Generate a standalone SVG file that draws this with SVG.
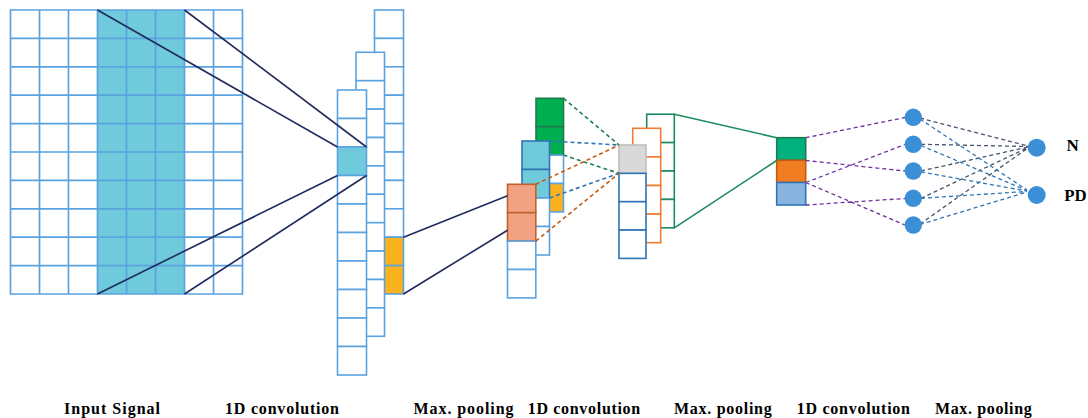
<svg xmlns="http://www.w3.org/2000/svg" width="1088" height="418" viewBox="0 0 1088 418">
<style>
.g{fill:none;stroke:#5BA3E0;stroke-width:1.7}
.c{fill:#fff;stroke:#5BA3E0;stroke-width:1.6}
.cy{fill:#FAB21E;stroke:#5BA3E0;stroke-width:1.6}
.cb{fill:#6FCADB;stroke:#5BA3E0;stroke-width:1.6}
.gr{fill:#00B050;stroke:#1E7A4E;stroke-width:1.6}
.lb{fill:#6FCADB;stroke:#2E75B6;stroke-width:1.6}
.pk{fill:#F0A282;stroke:#C0622B;stroke-width:1.6}
.gy{fill:#D9D9D9;stroke:#BFBFBF;stroke-width:1.6}
.wb{fill:#fff;stroke:#2E75B6;stroke-width:1.6}
.wo{fill:#fff;stroke:#ED7D31;stroke-width:1.6}
.wg{fill:#fff;stroke:#1E8B5E;stroke-width:1.6}
.s1{fill:#00B07D;stroke:#1B7C53;stroke-width:1.6}
.s2{fill:#F07D22;stroke:#C55A11;stroke-width:1.6}
.s3{fill:#8AB4E0;stroke:#2E75B6;stroke-width:1.6}
.nv{stroke:#1F2A5E;stroke-width:1.6;fill:none}
.dg{stroke:#1E8050;stroke-width:1.6;stroke-dasharray:4 3;fill:none}
.db{stroke:#2E75B6;stroke-width:1.6;stroke-dasharray:4 3;fill:none}
.dr{stroke:#C55A11;stroke-width:1.6;stroke-dasharray:4 3;fill:none}
.sg{stroke:#1E8B5E;stroke-width:1.6;fill:none}
.dp{stroke:#7030A0;stroke-width:1.3;stroke-dasharray:4 3;fill:none}
.dk{stroke:#44546A;stroke-width:1.3;stroke-dasharray:4 3;fill:none}
.bl{stroke:#2E75B6;stroke-width:1.3;stroke-dasharray:4 3;fill:none}
.nd{fill:#3B8FD6}
.t{font-family:"Liberation Serif","Times New Roman",serif;font-weight:bold;font-size:16px;fill:#000}
.o{font-family:"Liberation Serif","Times New Roman",serif;font-weight:bold;font-size:17px;fill:#000}
</style>

<g id="input">
<rect x="97.5" y="10" width="87" height="284" fill="#6FCADB"/>
<path class="g" d="M10.5 10H242.5V294H10.5Z M39.5 10V294 M68.5 10V294 M97.5 10V294 M126.5 10V294 M155.5 10V294 M184.5 10V294 M213.5 10V294 M10.5 38.4H242.5 M10.5 66.8H242.5 M10.5 95.2H242.5 M10.5 123.6H242.5 M10.5 152H242.5 M10.5 180.4H242.5 M10.5 208.8H242.5 M10.5 237.2H242.5 M10.5 265.6H242.5"/>
</g>

<g id="conv1">
<g id="conv1-c">
<rect class="c" x="374.5" y="10" width="29" height="28.4"/>
<rect class="c" x="374.5" y="38.4" width="29" height="28.4"/>
<rect class="c" x="374.5" y="66.8" width="29" height="28.4"/>
<rect class="c" x="374.5" y="95.2" width="29" height="28.4"/>
<rect class="c" x="374.5" y="123.6" width="29" height="28.4"/>
<rect class="c" x="374.5" y="152" width="29" height="28.4"/>
<rect class="c" x="374.5" y="180.4" width="29" height="28.4"/>
<rect class="c" x="374.5" y="208.8" width="29" height="28.4"/>
<rect class="cy" x="374.5" y="237.2" width="29" height="28.4"/>
<rect class="cy" x="374.5" y="265.6" width="29" height="28.4"/>
</g>
<g id="conv1-b">
<rect class="c" x="356" y="52.3" width="28.5" height="28.4"/>
<rect class="c" x="356" y="80.7" width="28.5" height="28.4"/>
<rect class="c" x="356" y="109.1" width="28.5" height="28.4"/>
<rect class="c" x="356" y="137.5" width="28.5" height="28.4"/>
<rect class="c" x="356" y="165.9" width="28.5" height="28.4"/>
<rect class="c" x="356" y="194.3" width="28.5" height="28.4"/>
<rect class="c" x="356" y="222.7" width="28.5" height="28.4"/>
<rect class="c" x="356" y="251.1" width="28.5" height="28.4"/>
<rect class="c" x="356" y="279.5" width="28.5" height="28.4"/>
<rect class="c" x="356" y="307.9" width="28.5" height="28.4"/>
</g>
<g id="conv1-a">
<rect class="c" x="337.5" y="90" width="29" height="28.5"/>
<rect class="c" x="337.5" y="118.5" width="29" height="28.5"/>
<rect class="cb" x="337.5" y="147" width="29" height="28.5"/>
<rect class="c" x="337.5" y="175.5" width="29" height="28.5"/>
<rect class="c" x="337.5" y="204" width="29" height="28.5"/>
<rect class="c" x="337.5" y="232.5" width="29" height="28.5"/>
<rect class="c" x="337.5" y="261" width="29" height="28.5"/>
<rect class="c" x="337.5" y="289.5" width="29" height="28.5"/>
<rect class="c" x="337.5" y="318" width="29" height="28.5"/>
<rect class="c" x="337.5" y="346.5" width="29" height="28.5"/>
</g>
</g>

<g id="conv2">
<g id="conv2-green">
<rect class="gr" x="536" y="98.3" width="27.5" height="28.4"/>
<rect class="gr" x="536" y="126.7" width="27.5" height="28.4"/>
<rect class="c" x="536" y="155.1" width="27.5" height="28.4"/>
<rect class="cy" x="536" y="183.5" width="27.5" height="28.4"/>
</g>
<g id="conv2-blue">
<rect class="lb" x="522" y="141" width="27.5" height="28.5"/>
<rect class="lb" x="522" y="169.5" width="27.5" height="28.5"/>
<rect class="c" x="522" y="198" width="27.5" height="28.5"/>
<rect class="c" x="522" y="226.5" width="27.5" height="28.5"/>
</g>
<g id="conv2-pink">
<rect class="pk" x="507.5" y="184.3" width="28.3" height="28.4"/>
<rect class="pk" x="507.5" y="212.7" width="28.3" height="28.4"/>
<rect class="c" x="507.5" y="241.1" width="28.3" height="28.4"/>
<rect class="c" x="507.5" y="269.5" width="28.3" height="28.4"/>
</g>
</g>

<g id="pool2">
<g id="pool2-green">
<rect class="wg" x="646.7" y="114.2" width="27.6" height="28.4"/>
<rect class="wg" x="646.7" y="142.6" width="27.6" height="28.4"/>
<rect class="wg" x="646.7" y="171" width="27.6" height="28.4"/>
<rect class="wg" x="646.7" y="199.4" width="27.6" height="28.4"/>
</g>
<g id="pool2-orange">
<rect class="wo" x="632.7" y="128.3" width="28" height="28.6"/>
<rect class="wo" x="632.7" y="156.9" width="28" height="28.6"/>
<rect class="wo" x="632.7" y="185.5" width="28" height="28.6"/>
<rect class="wo" x="632.7" y="214.1" width="28" height="28.6"/>
</g>
<g id="pool2-front">
<rect class="gy" x="619" y="145" width="27" height="28.35"/>
<rect class="wb" x="619" y="173.35" width="27" height="28.35"/>
<rect class="wb" x="619" y="201.7" width="27" height="28.35"/>
<rect class="wb" x="619" y="230.05" width="27" height="28.35"/>
</g>
</g>

<g id="conv3">
<rect class="s1" x="776.7" y="137.7" width="29" height="22.6"/>
<rect class="s2" x="776.7" y="160.3" width="29" height="22.2"/>
<rect class="s3" x="776.7" y="182.5" width="29" height="22.5"/>
</g>

<g id="connectors">
<path class="nv" d="M97.5 10L337.5 147 M184.5 10L366.5 147 M97.5 294L337.5 175.5 M184.5 294L366.5 175.5"/>
<path class="nv" d="M403.5 237.2L507.5 195.8 M403.5 294L507.5 230.2"/>
<path class="dg" d="M563.5 98.3L619 145 M563.5 155.1L619 173.3"/>
<path class="db" d="M549.5 141L619 145 M549.5 198L619 173.3"/>
<path class="dr" d="M535.8 184.3L619 145 M535.8 241.1L619 173.3"/>
<path class="sg" d="M674.3 114.2L776.7 137.7 M674.3 227.8L776.7 160.5"/>
<path class="dp" d="M805.7 137.7L905 117.5 M805.7 160.5L905 171 M805.7 182.5L905 144.5 M805.7 182.5L905 225 M805.7 205L905 198.5"/>
<path class="dk" d="M920 118L1028 146 M921 144.3L1028 146.5 M921 171L1028 147 M921 198.3L1028 147.5 M920 224L1028 148"/>
<path class="bl" d="M920 119L1027 190 M921 145.5L1027 190.5 M921 172L1027 191 M921 198.3L1027 191.5 M920 224.5L1027 192"/>
</g>

<g id="hidden">
<circle id="h1" class="nd" cx="913.3" cy="117.3" r="8.7"/>
<circle id="h2" class="nd" cx="913.3" cy="144.3" r="8.7"/>
<circle id="h3" class="nd" cx="913.3" cy="171" r="8.7"/>
<circle id="h4" class="nd" cx="913.3" cy="198.3" r="8.7"/>
<circle id="h5" class="nd" cx="913.3" cy="225" r="8.7"/>
</g>
<g id="out-n">
<circle class="nd" cx="1036.7" cy="147.7" r="9"/>
<text class="o" x="1066.5" y="150.5">N</text>
</g>
<g id="out-pd">
<circle class="nd" cx="1036.7" cy="195" r="9"/>
<text class="o" x="1064.3" y="200.7" textLength="22.4" lengthAdjust="spacingAndGlyphs">PD</text>
</g>

<g id="labels">
<text class="t" x="64" y="414" textLength="96" lengthAdjust="spacing">Input Signal</text>
<text class="t" x="225" y="414" textLength="114" lengthAdjust="spacing">1D convolution</text>
<text class="t" x="413.5" y="414" textLength="100" lengthAdjust="spacing">Max. pooling</text>
<text class="t" x="527.7" y="414" textLength="112.5" lengthAdjust="spacing">1D convolution</text>
<text class="t" x="674" y="414" textLength="97.7" lengthAdjust="spacing">Max. pooling</text>
<text class="t" x="796.7" y="414" textLength="113.3" lengthAdjust="spacing">1D convolution</text>
<text class="t" x="935" y="414" textLength="96.7" lengthAdjust="spacing">Max. pooling</text>
</g>
</svg>
